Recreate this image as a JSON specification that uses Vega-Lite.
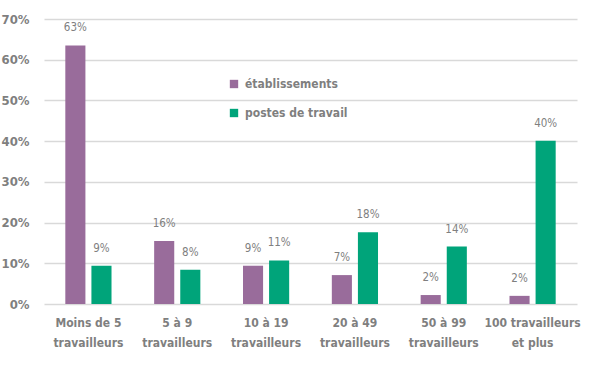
{
  "$schema": "https://vega.github.io/schema/vega-lite/v6.json",
  "width": 533,
  "height": 285,
  "autosize": {"type": "none"},
  "padding": {"left": 44, "top": 19, "right": 23, "bottom": 65},
  "background": "white",
  "config": {
    "view": {"stroke": null},
    "font": "DejaVu Sans Condensed"
  },
  "data": {
    "values": [
      {"cat": "Moins de 5|travailleurs", "serie": "établissements", "value": 63.5, "label": "63%"},
      {"cat": "Moins de 5|travailleurs", "serie": "postes de travail", "value": 9.4, "label": "9%"},
      {"cat": "5 à 9|travailleurs", "serie": "établissements", "value": 15.5, "label": "16%"},
      {"cat": "5 à 9|travailleurs", "serie": "postes de travail", "value": 8.4, "label": "8%"},
      {"cat": "10 à 19|travailleurs", "serie": "établissements", "value": 9.4, "label": "9%"},
      {"cat": "10 à 19|travailleurs", "serie": "postes de travail", "value": 10.7, "label": "11%"},
      {"cat": "20 à 49|travailleurs", "serie": "établissements", "value": 7.1, "label": "7%"},
      {"cat": "20 à 49|travailleurs", "serie": "postes de travail", "value": 17.6, "label": "18%"},
      {"cat": "50 à 99|travailleurs", "serie": "établissements", "value": 2.2, "label": "2%"},
      {"cat": "50 à 99|travailleurs", "serie": "postes de travail", "value": 14.1, "label": "14%"},
      {"cat": "100 travailleurs|et plus", "serie": "établissements", "value": 2.0, "label": "2%"},
      {"cat": "100 travailleurs|et plus", "serie": "postes de travail", "value": 40.1, "label": "40%"}
    ]
  },
  "encoding": {
    "x": {
      "field": "cat", "type": "nominal", "sort": null,
      "scale": {"paddingInner": 0.48, "paddingOuter": 0.24},
      "axis": {
        "title": null, "labelAngle": 0, "domain": false, "ticks": false,
        "labelExpr": "split(datum.label, '|')",
        "labelFontSize": 12, "labelFontWeight": "bold", "labelColor": "#7f7f7f",
        "labelPadding": 13, "labelLineHeight": 20
      }
    },
    "xOffset": {"field": "serie", "type": "nominal", "sort": ["établissements", "postes de travail"], "scale": {"paddingInner": 0.23}},
    "y": {
      "field": "value", "type": "quantitative",
      "scale": {"domain": [0, 70], "nice": false},
      "axis": {
        "title": null, "domain": false, "ticks": false, "values": [0,10,20,30,40,50,60,70],
        "labelExpr": "datum.value + '%'",
        "labelFontSize": 13, "labelFontWeight": "bold", "labelColor": "#7f7f7f",
        "labelPadding": 15, "gridColor": "#d9d9d9", "gridWidth": 1.5
      }
    }
  },
  "layer": [
    {
      "mark": {"type": "bar"},
      "encoding": {
        "color": {
          "field": "serie", "type": "nominal",
          "scale": {"domain": ["établissements", "postes de travail"], "range": ["#996c9b", "#00a47a"]},
          "legend": {
            "title": null, "orient": "none", "legendX": 184, "legendY": 59,
            "symbolType": "square", "symbolSize": 70, "symbolStrokeWidth": 0,
            "labelFontSize": 12, "labelFontWeight": "bold", "labelColor": "#7f7f7f",
            "rowPadding": 17, "labelOffset": 5
          }
        }
      }
    },
    {
      "mark": {"type": "text", "dy": -12, "fontSize": 11.5, "color": "#7f7f7f", "baseline": "bottom"},
      "encoding": {"text": {"field": "label"}}
    }
  ]
}
